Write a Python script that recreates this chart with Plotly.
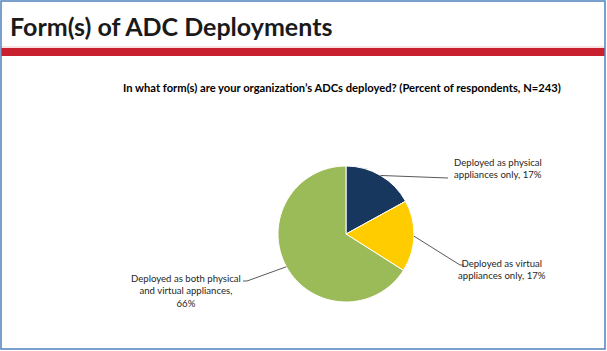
import math
import plotly.graph_objects as go

W, H = 607, 351

labels = ["Deployed as physical appliances only",
          "Deployed as virtual appliances only",
          "Deployed as both physical and virtual appliances"]
values = [17, 17, 66]
label_texts = ["Deployed as physical<br>appliances only, 17%",
               "Deployed as virtual<br>appliances only, 17%",
               "Deployed as both physical<br>and virtual appliances,<br>66%"]
colors = ["#17375e", "#ffcc00", "#9bbb59"]

title = "Form(s) of ADC Deployments"
subtitle = "In what form(s) are your organization\u2019s ADCs deployed? (Percent of respondents, N=243)"

def px(x):
    return x / W

def py(y):
    return 1 - y / H

# pie geometry (pixels)
cx, cy, r = 346, 234, 68

fig = go.Figure(go.Pie(
    labels=labels, values=values, sort=False, direction="clockwise", rotation=0,
    marker=dict(colors=colors, line=dict(color="white", width=1)),
    textinfo="none", hoverinfo="label+percent", showlegend=False,
    domain=dict(x=[px(cx - r), px(cx + r)], y=[py(cy + r), py(cy - r)]),
))

font = "Lato, 'Open Sans', sans-serif"
shapes = []
annotations = []

# slice midpoints from data
total = sum(values)
cum = 0
mids = []
for v in values:
    a = (cum + v / 2) / total * 2 * math.pi
    mids.append((cx + r * math.sin(a), cy - r * math.cos(a)))
    cum += v

# label layout: (text anchor x, y center, xanchor, elbow points)
label_pos = [
    dict(x=452, y=169, xanchor="left", align="left", pts=[(448, 178)]),
    dict(x=502, y=269, xanchor="center", align="center", pts=[(460, 265), (464, 265)]),
    dict(x=186, y=291, xanchor="center", align="center", pts=[(247, 281), (243, 281)]),
]

for i, lp in enumerate(label_pos):
    pts = [mids[i]] + lp["pts"]
    for (x0, y0), (x1, y1) in zip(pts[:-1], pts[1:]):
        shapes.append(dict(type="line", xref="paper", yref="paper",
                           x0=px(x0), y0=py(y0), x1=px(x1), y1=py(y1),
                           line=dict(color="#595959", width=1)))
    annotations.append(dict(text=label_texts[i], x=px(lp["x"]), y=py(lp["y"]),
                            xref="paper", yref="paper", xanchor=lp["xanchor"],
                            yanchor="middle", align=lp["align"], showarrow=False,
                            font=dict(family=font, size=9.6, color="#262626")))

# title and subtitle
annotations.append(dict(text="<b>" + title + "</b>", x=px(8), y=py(26), xref="paper", yref="paper",
                        xanchor="left", yanchor="middle", showarrow=False,
                        font=dict(family=font, size=25, color="#1a1a1a")))
annotations.append(dict(text="<b>" + subtitle + "</b>", x=px(342), y=py(87), xref="paper", yref="paper",
                        xanchor="center", yanchor="middle", showarrow=False,
                        font=dict(family=font, size=11.2, color="#000000")))

# red bar and border
shapes.append(dict(type="rect", xref="paper", yref="paper", x0=px(1), x1=px(605), y0=py(56), y1=py(48),
                   fillcolor="#c8202f", line=dict(width=0), layer="below"))
shapes.append(dict(type="line", xref="paper", yref="paper", x0=px(1), x1=px(605), y0=py(47), y1=py(47),
                   line=dict(color="#f2c4c8", width=1), layer="below"))
shapes.append(dict(type="rect", xref="paper", yref="paper", x0=px(1), x1=px(605), y0=py(349), y1=py(1),
                   fillcolor="rgba(0,0,0,0)", line=dict(color="#4f81bd", width=1.5)))

fig.update_layout(width=W, height=H, margin=dict(l=0, r=0, t=0, b=0),
                  paper_bgcolor="white", plot_bgcolor="white",
                  shapes=shapes, annotations=annotations)

fig.write_html("out.html")
